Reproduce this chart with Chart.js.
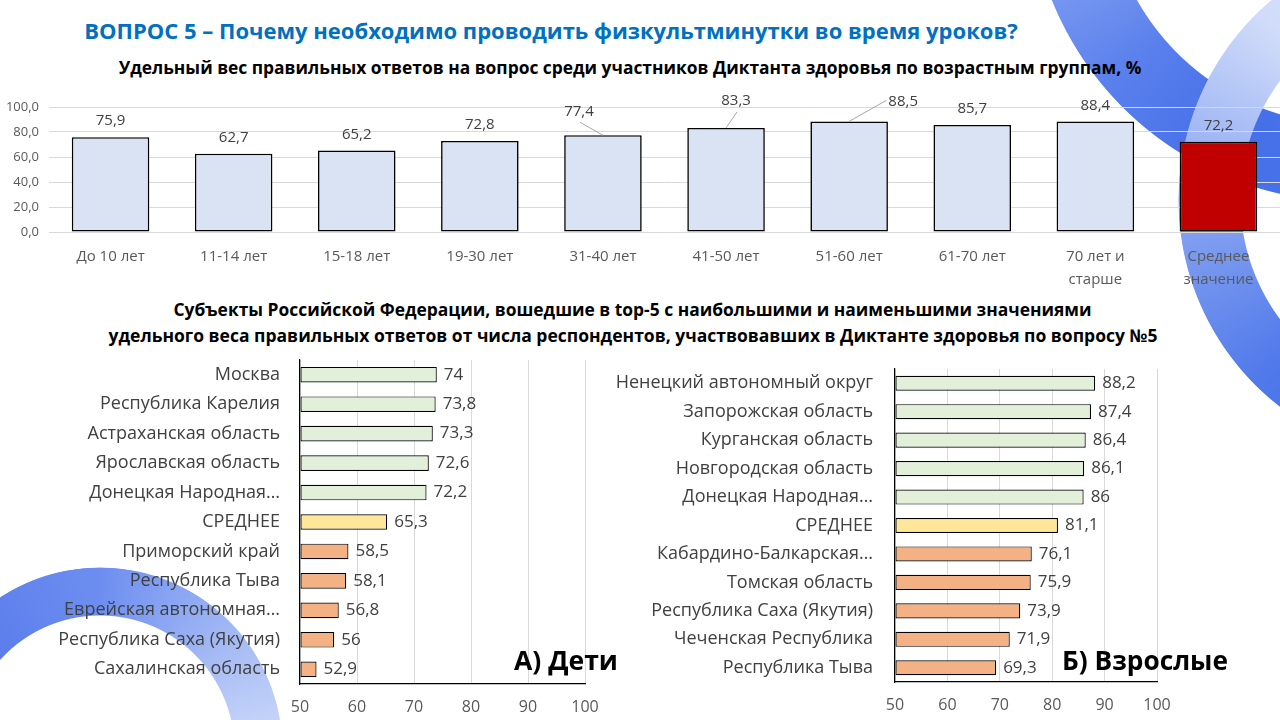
<!DOCTYPE html>
<html><head><meta charset="utf-8">
<script src="https://cdn.jsdelivr.net/npm/chart.js@4.4.1/dist/chart.umd.min.js"></script>
<style>
html,body{margin:0;padding:0;background:#fff;}
body{width:1280px;height:720px;position:relative;overflow:hidden;font-family:"Open Sans",sans-serif;}
.ring{position:absolute;border-radius:50%;z-index:0;}
.t{position:absolute;white-space:nowrap;font-weight:bold;line-height:1;left:0;top:0;z-index:3;}
canvas{position:absolute;z-index:1;}
</style></head><body>
<div class="ring" id="ringA"></div>
<div class="ring" id="ringB"></div>
<div class="ring" id="ringC"></div>

<canvas id="cTop" width="1280" height="215" style="left:0;top:80px"></canvas>
<canvas id="cKids" width="620" height="370" style="left:0;top:350px"></canvas>
<canvas id="cAdults" width="680" height="361" style="left:600px;top:359px"></canvas>

<div class="t" id="t1" style="color:#0070C0;font-size:22px">ВОПРОС 5 – Почему необходимо проводить физкультминутки во время уроков?</div>
<div class="t" id="t2" style="color:#000;font-size:16px">Удельный вес правильных ответов на вопрос среди участников Диктанта здоровья по возрастным группам, %</div>
<div class="t" id="t3" style="color:#000;font-size:16px">Субъекты Российской Федерации, вошедшие в top-5 с наибольшими и наименьшими значениями</div>
<div class="t" id="t4" style="color:#000;font-size:16px">удельного веса правильных ответов от числа респондентов, участвовавших в Диктанте здоровья по вопросу №5</div>
<div class="t" id="t5" style="color:#000;font-size:28px">А) Дети</div>
<div class="t" id="t6" style="color:#000;font-size:28px">Б) Взрослые</div>

<script>
// ---------- DATA ----------
const ageCategories = ['До 10 лет','11-14 лет','15-18 лет','19-30 лет','31-40 лет','41-50 лет','51-60 лет','61-70 лет',['70 лет и','старше'],['Среднее','значение']];
const ageValues = [75.9, 62.7, 65.2, 72.8, 77.4, 83.3, 88.5, 85.7, 88.4, 72.2];
const ageTicks = [0, 20, 40, 60, 80, 100];

const kidsRegions = ['Москва','Республика Карелия','Астраханская область','Ярославская область','Донецкая Народная…','СРЕДНЕЕ','Приморский край','Республика Тыва','Еврейская автономная…','Республика Саха (Якутия)','Сахалинская область'];
const kidsValues = [74, 73.8, 73.3, 72.6, 72.2, 65.3, 58.5, 58.1, 56.8, 56, 52.9];

const adultRegions = ['Ненецкий автономный округ','Запорожская область','Курганская область','Новгородская область','Донецкая Народная…','СРЕДНЕЕ','Кабардино-Балкарская…','Томская область','Республика Саха (Якутия)','Чеченская Республика','Республика Тыва'];
const adultValues = [88.2, 87.4, 86.4, 86.1, 86, 81.1, 76.1, 75.9, 73.9, 71.9, 69.3];

const regionTicks = [50, 60, 70, 80, 90, 100];

// ---------- decorative rings ----------
function ring(id, cx, cy, rin, rout, bg){
  const el = document.getElementById(id);
  el.style.left = (cx - rout) + 'px'; el.style.top = (cy - rout) + 'px';
  el.style.width = el.style.height = (2*rout) + 'px';
  el.style.background = bg;
  const m = `radial-gradient(circle, transparent ${rin-1}px, #000 ${rin}px, #000 ${rout-1}px, transparent ${rout}px)`;
  el.style.webkitMaskImage = m; el.style.maskImage = m;
}
ring('ringA', 1350, -120, 245, 322, 'conic-gradient(from 180deg, #4a74ea 0deg, #456fe8 25deg, #5a80ec 50deg, #809ef1 75deg, #b9cbf6 120deg, #4a74ea 360deg)');
ring('ringB', 1440, 200, 200, 262, 'conic-gradient(from 180deg, #3f6be8 0deg, #5079ea 45deg, #8aa6f2 90deg, #cfdbf9 135deg, #e8eefc 180deg, #3f6be8 360deg)');
ring('ringC', 100, 750, 135, 183, 'conic-gradient(from 0deg, #6d8ef0 0deg, #9fb6f4 45deg, #cddaf9 90deg, #e0e8fb 180deg, #4a6fe6 270deg, #5c7eeb 315deg, #6d8ef0 360deg)');

// ---------- text placement ----------
function place(id, x0, x1, cy){
  const el = document.getElementById(id);
  const w = el.getBoundingClientRect().width;
  const fs = parseFloat(getComputedStyle(el).fontSize);
  el.style.fontSize = (fs * (x1 - x0) / w) + 'px';
  const r = el.getBoundingClientRect();
  el.style.left = ((x0 + x1)/2 - r.width/2) + 'px';
  el.style.top = (cy - r.height/2) + 'px';
}
place('t1', 84, 1018, 30);
place('t2', 118, 1142, 68);
place('t3', 173, 1092, 310);
place('t4', 108, 1158, 336);
place('t5', 514, 618, 660);
place('t6', 1062, 1228, 660);

// ---------- value label plugin ----------
const valueLabels = {
  id: 'valueLabels',
  afterDatasetsDraw(chart, args, opts){
    const ctx = chart.ctx;
    const meta = chart.getDatasetMeta(0);
    const data = chart.data.datasets[0].data;
    ctx.save();
    ctx.font = opts.font;
    ctx.fillStyle = opts.color;
    ctx.textBaseline = 'middle';
    meta.data.forEach((el, i) => {
      const txt = opts.format(data[i]);
      if (opts.horizontal) {
        ctx.textAlign = 'left';
        ctx.fillText(txt, el.x + opts.gap, el.y);
      } else {
        const sh = (opts.shift && opts.shift[i]) || [0, 0];
        const lx = el.x + sh[0], ly = el.y - opts.gap + sh[1];
        ctx.textAlign = 'center';
        ctx.fillText(txt, lx, ly);
        if (sh[0] || sh[1]) {
          const w = ctx.measureText(txt).width;
          let sx, sy;
          if (sh[0] > 30) { sx = lx - w/2 - 2; sy = ly - 1; } else { sx = lx + 1; sy = ly + 11; }
          ctx.save();
          ctx.strokeStyle = '#A6A6A6'; ctx.lineWidth = 1;
          ctx.beginPath(); ctx.moveTo(sx, sy); ctx.lineTo(el.x, el.y); ctx.stroke();
          ctx.restore();
        }
      }
    });
    ctx.restore();
  }
};

const FONT = '"Open Sans", sans-serif';
const fmt1 = v => v.toFixed(1).replace('.', ',');
const fmtR = v => String(v).replace('.', ',');

// ---------- top chart ----------
new Chart(document.getElementById('cTop'), {
  type: 'bar',
  data: {
    labels: ageCategories,
    datasets: [{
      data: ageValues,
      backgroundColor: ageValues.map((v, i) => i === ageValues.length - 1 ? '#C00000' : '#DAE3F3'),
      borderColor: '#000',
      borderWidth: 1.6,
      borderSkipped: false,
      barPercentage: 0.63,
      categoryPercentage: 1
    }]
  },
  options: {
    responsive: false, animation: false,
    layout: { padding: { top: 27, left: 0, right: 0, bottom: 0 } },
    plugins: {
      legend: { display: false }, tooltip: { enabled: false },
      valueLabels: {
        font: '15px ' + FONT, color: '#404040', gap: 16, format: fmt1,
        shift: [[0,0],[0,0],[0,0],[0,0],[-24,-8],[10,-11],[54,-4],[0,0],[0,0],[0,0]]
      }
    },
    scales: {
      x: {
        grid: { display: false, drawTicks: false }, border: { display: false },
        ticks: { color: '#595959', font: { family: FONT, size: 15, lineHeight: 1.55 }, padding: 13, autoSkip: false, maxRotation: 0 },
        afterFit: s => { s.height = 63; }
      },
      y: {
        min: 0, max: 100,
        afterBuildTicks: s => { s.ticks = ageTicks.map(v => ({ value: v })); },
        grid: { color: '#D9D9D9', lineWidth: 1, drawTicks: false },
        border: { display: false },
        ticks: { color: '#595959', font: { family: FONT, size: 13 }, padding: 10, callback: v => fmt1(v) },
        afterFit: s => { s.width = 49; }
      }
    }
  },
  plugins: [valueLabels]
});

// ---------- horizontal region charts ----------
function regionColors(vals){
  return vals.map((v, i) => i < 5 ? '#E2F0D9' : (i === 5 ? '#FFE699' : '#F4B183'));
}
function regionChart(id, labels, values, axisW, pad){
  return new Chart(document.getElementById(id), {
    type: 'bar',
    data: {
      labels: labels,
      datasets: [{
        data: values,
        base: 50,
        backgroundColor: regionColors(values),
        borderColor: '#000',
        borderWidth: 1.2,
        borderSkipped: false,
        barPercentage: 0.53,
        categoryPercentage: 1
      }]
    },
    options: {
      indexAxis: 'y',
      responsive: false, animation: false,
      layout: { padding: { top: pad.top, right: pad.right, left: 0, bottom: 0 } },
      plugins: {
        legend: { display: false }, tooltip: { enabled: false },
        valueLabels: { horizontal: true, font: '17px ' + FONT, color: '#404040', gap: 7, format: fmtR }
      },
      scales: {
        x: {
          min: 50, max: 100,
          afterBuildTicks: s => { s.ticks = regionTicks.map(v => ({ value: v })); },
          grid: { color: '#D9D9D9', lineWidth: 1, drawTicks: false },
          border: { display: true, color: '#000', width: 1.2 },
          ticks: { color: '#595959', font: { family: FONT, size: 16 }, padding: 14 },
          afterFit: s => { s.height = pad.axisH; }
        },
        y: {
          grid: { display: false, drawTicks: false },
          border: { display: true, color: '#000', width: 1.2 },
          ticks: { color: '#404040', font: { family: FONT, size: 18 }, padding: pad.tickPad, autoSkip: false },
          afterFit: s => { s.width = axisW; s.paddingTop = 0; s.paddingBottom = 0; }
        }
      }
    },
    plugins: [valueLabels]
  });
}
regionChart('cKids', kidsRegions, kidsValues, 300, { top: 10, right: 35, axisH: 36, tickPad: 20 });
regionChart('cAdults', adultRegions, adultValues, 295, { top: 10, right: 123, axisH: 38, tickPad: 22 });
</script>
</body></html>
